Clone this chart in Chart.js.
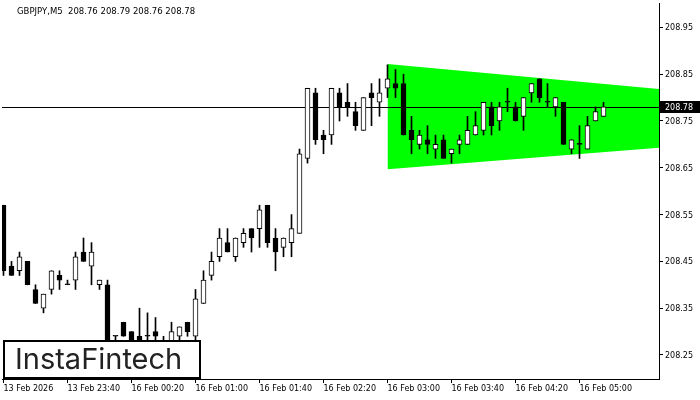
<!DOCTYPE html>
<html>
<head>
<meta charset="utf-8">
<script src="https://cdn.jsdelivr.net/npm/chart.js@4"></script>
<style>
  html, body { margin: 0; padding: 0; background: #fff; }
</style>
</head>
<body>
<canvas id="grafico-principal" width="700" height="400"></canvas>
<script>
// dados do grafico GBPJPY M5
const simbolo = "GBPJPY,M5";
const rotulosX = ["13 Feb 2026", "13 Feb 23:40", "16 Feb 00:20", "16 Feb 01:00", "16 Feb 01:40",
  "16 Feb 02:20", "16 Feb 03:00", "16 Feb 03:40", "16 Feb 04:20", "16 Feb 05:00"];
const posRotulosX = [0, 8, 16, 24, 32, 40, 48, 56, 64, 72];
const ticksY = [208.25, 208.35, 208.45, 208.55, 208.65, 208.75, 208.85, 208.95];

const abertura = [208.57, 208.44, 208.43, 208.45, 208.39, 208.35, 208.39, 208.42, 208.40, 208.41,
  208.47, 208.44, 208.40, 208.40, 208.29, 208.32, 208.30, 208.29, 208.29, 208.30,
  208.28, 208.27, 208.29, 208.32, 208.29, 208.36, 208.42, 208.46, 208.49, 208.46,
  208.49, 208.52, 208.52, 208.57, 208.50, 208.48, 208.49, 208.51, 208.67, 208.81,
  208.72, 208.72, 208.81, 208.79, 208.77, 208.73, 208.81, 208.79, 208.82, 208.83,
  208.83, 208.73, 208.70, 208.71, 208.69, 208.71, 208.68, 208.70, 208.70, 208.72,
  208.73, 208.78, 208.75, 208.79, 208.78, 208.76, 208.81, 208.84, 208.79, 208.78,
  208.79, 208.69, 208.70, 208.69, 208.75, 208.76];
const maxima = [208.57, 208.45, 208.47, 208.45, 208.40, 208.38, 208.43, 208.43, 208.41, 208.47,
  208.50, 208.49, 208.41, 208.41, 208.29, 208.32, 208.30, 208.35, 208.34, 208.33,
  208.29, 208.32, 208.31, 208.32, 208.39, 208.43, 208.47, 208.52, 208.52, 208.50,
  208.52, 208.52, 208.57, 208.57, 208.52, 208.50, 208.55, 208.69, 208.82, 208.82,
  208.73, 208.82, 208.82, 208.83, 208.79, 208.80, 208.83, 208.84, 208.87, 208.86,
  208.85, 208.76, 208.73, 208.74, 208.72, 208.72, 208.69, 208.72, 208.76, 208.77,
  208.79, 208.79, 208.79, 208.82, 208.79, 208.80, 208.83, 208.84, 208.83, 208.80,
  208.79, 208.71, 208.74, 208.76, 208.78, 208.79];
const minima = [208.42, 208.42, 208.42, 208.40, 208.36, 208.34, 208.38, 208.39, 208.40, 208.39,
  208.45, 208.40, 208.39, 208.23, 208.27, 208.29, 208.27, 208.26, 208.27, 208.28,
  208.26, 208.27, 208.28, 208.29, 208.28, 208.36, 208.41, 208.45, 208.47, 208.45,
  208.48, 208.47, 208.48, 208.48, 208.43, 208.46, 208.46, 208.51, 208.66, 208.70,
  208.68, 208.70, 208.75, 208.76, 208.73, 208.73, 208.74, 208.76, 208.80, 208.80,
  208.72, 208.68, 208.69, 208.68, 208.67, 208.67, 208.66, 208.68, 208.70, 208.72,
  208.72, 208.72, 208.73, 208.77, 208.75, 208.73, 208.79, 208.79, 208.78, 208.76,
  208.70, 208.68, 208.67, 208.69, 208.75, 208.76];
const fechamento = [208.43, 208.42, 208.46, 208.40, 208.36, 208.38, 208.43, 208.41, 208.40, 208.46,
  208.45, 208.47, 208.41, 208.24, 208.29, 208.29, 208.27, 208.28, 208.29, 208.29,
  208.27, 208.30, 208.31, 208.30, 208.37, 208.41, 208.45, 208.50, 208.47, 208.50,
  208.51, 208.50, 208.56, 208.49, 208.47, 208.50, 208.52, 208.68, 208.82, 208.71,
  208.71, 208.82, 208.78, 208.78, 208.74, 208.80, 208.80, 208.81, 208.84, 208.82,
  208.72, 208.71, 208.72, 208.70, 208.70, 208.67, 208.69, 208.71, 208.73, 208.74,
  208.79, 208.74, 208.78, 208.79, 208.75, 208.80, 208.83, 208.80, 208.79, 208.80,
  208.70, 208.71, 208.70, 208.74, 208.77, 208.78];

// triangulo (figura verde)
const trianguloX = [48, 82];
const trianguloTopo = [208.872, 208.818];
const trianguloBase = [208.647, 208.693];

const ultimo = abertura.length - 1;

const corpos = abertura.map((a, i) => ({ x: i, y: [a, fechamento[i]] }));
const pavios = minima.map((m, i) => ({ x: i, y: [m, maxima[i]] }));
const corCorpo = abertura.map((a, i) => (fechamento[i] > a ? "#ffffff" : "#000000"));

const fonteEixo = { family: "DejaVu Sans", size: 8 };

// zera o espaco extra que o Chart.js reserva para os rotulos
function semPadding(scale) {
  scale.paddingLeft = 0;
  scale.paddingRight = 0;
  scale.paddingTop = 0;
  scale.paddingBottom = 0;
}

// linha do preco atual, desenhada antes das velas
const linhaPreco = {
  id: "linhaPreco",
  beforeDatasetDraw(chart, args) {
    if (args.index !== 2) return;
    const ctx = chart.ctx;
    const area = chart.chartArea;
    const y = Math.round(chart.scales.y.getPixelForValue(fechamento[ultimo])) + 0.5;
    ctx.save();
    ctx.strokeStyle = "#000";
    ctx.lineWidth = 1;
    ctx.beginPath();
    ctx.moveTo(area.left, y);
    ctx.lineTo(area.right, y);
    ctx.stroke();
    ctx.restore();
  },
};

const extras = {
  id: "extras",
  afterDraw(chart) {
    const ctx = chart.ctx;
    const y = Math.round(chart.scales.y.getPixelForValue(fechamento[ultimo]));
    ctx.save();
    // etiqueta do preco
    ctx.fillStyle = "#000";
    ctx.fillRect(660, y - 6, 40, 12);
    ctx.fillStyle = "#fff";
    ctx.font = "8px 'DejaVu Sans'";
    ctx.textBaseline = "middle";
    ctx.textAlign = "left";
    ctx.fillText(fechamento[ultimo].toFixed(2), 665, y + 0.5);

    // titulo
    ctx.fillStyle = "#000";
    ctx.font = "8.5px 'DejaVu Sans'";
    const titulo = simbolo + "  " + [abertura[ultimo], maxima[ultimo], minima[ultimo], fechamento[ultimo]]
      .map((v) => v.toFixed(2)).join(" ");
    ctx.fillText(titulo, 17, 12);

    // logo
    ctx.fillStyle = "#fff";
    ctx.fillRect(3, 340, 198, 39);
    ctx.strokeStyle = "#000";
    ctx.lineWidth = 2;
    ctx.strokeRect(4, 341, 196, 37);
    ctx.fillStyle = "#222";
    let tam = 25;
    ctx.font = "400 " + tam + "px Inter";
    const largura = ctx.measureText("InstaFintech").width;
    tam = tam * 167 / largura;
    ctx.font = "400 " + tam.toFixed(1) + "px Inter";
    ctx.fillText("InstaFintech", 15, 360);
    ctx.restore();
  },
};

let ctx = document.getElementById("grafico-principal").getContext("2d");
let chart = new Chart(ctx, {
  type: "bar",
  data: {
    datasets: [
      {
        type: "line",
        data: trianguloX.map((x, i) => ({ x: x, y: trianguloTopo[i] })),
        borderWidth: 0,
        pointRadius: 0,
        backgroundColor: "#00ff00",
        fill: "+1",
        order: 10,
      },
      {
        type: "line",
        data: trianguloX.map((x, i) => ({ x: x, y: trianguloBase[i] })),
        borderWidth: 0,
        pointRadius: 0,
        fill: false,
        order: 11,
      },
      {
        data: pavios,
        backgroundColor: "#000",
        borderWidth: 0,
        barThickness: 1,
        grouped: false,
        order: 2,
      },
      {
        data: corpos,
        backgroundColor: corCorpo,
        borderColor: "#000",
        borderWidth: 1,
        borderSkipped: false,
        barThickness: 5,
        minBarLength: 1,
        grouped: false,
        order: 1,
      },
    ],
  },
  options: {
    responsive: false,
    animation: false,
    devicePixelRatio: 1,
    layout: { padding: { left: 2, top: 3, right: 0, bottom: 0 } },
    plugins: { legend: { display: false }, tooltip: { enabled: false } },
    scales: {
      x: {
        type: "linear",
        min: -0.1875,
        max: 81.9375,
        bounds: "data",
        offset: false,
        grid: { offset: false, drawOnChartArea: false, drawTicks: true, tickLength: 4, color: "#000" },
        border: { display: true, color: "#000" },
        afterBuildTicks: (scale) => {
          scale.ticks = posRotulosX.map((v) => ({ value: v }));
        },
        afterFit: (scale) => {
          scale.height = 21;
          semPadding(scale);
        },
        ticks: {
          autoSkip: false,
          maxRotation: 0,
          align: "start",
          padding: 1,
          color: "#000",
          font: fonteEixo,
          callback: (v) => rotulosX[posRotulosX.indexOf(v)],
        },
      },
      y: {
        type: "linear",
        position: "right",
        min: 208.1987,
        max: 209.0021,
        bounds: "data",
        beginAtZero: false,
        grid: { drawOnChartArea: false, drawTicks: true, tickLength: 4, color: "#000" },
        border: { display: true, color: "#000" },
        afterBuildTicks: (scale) => {
          scale.ticks = ticksY.map((v) => ({ value: v }));
        },
        afterFit: (scale) => {
          scale.width = 41;
          semPadding(scale);
        },
        ticks: {
          padding: 2,
          labelOffset: 1,
          color: "#000",
          font: fonteEixo,
          callback: (v) => v.toFixed(2),
        },
      },
    },
  },
  plugins: [linhaPreco, extras],
});
</script>
</body>
</html>
